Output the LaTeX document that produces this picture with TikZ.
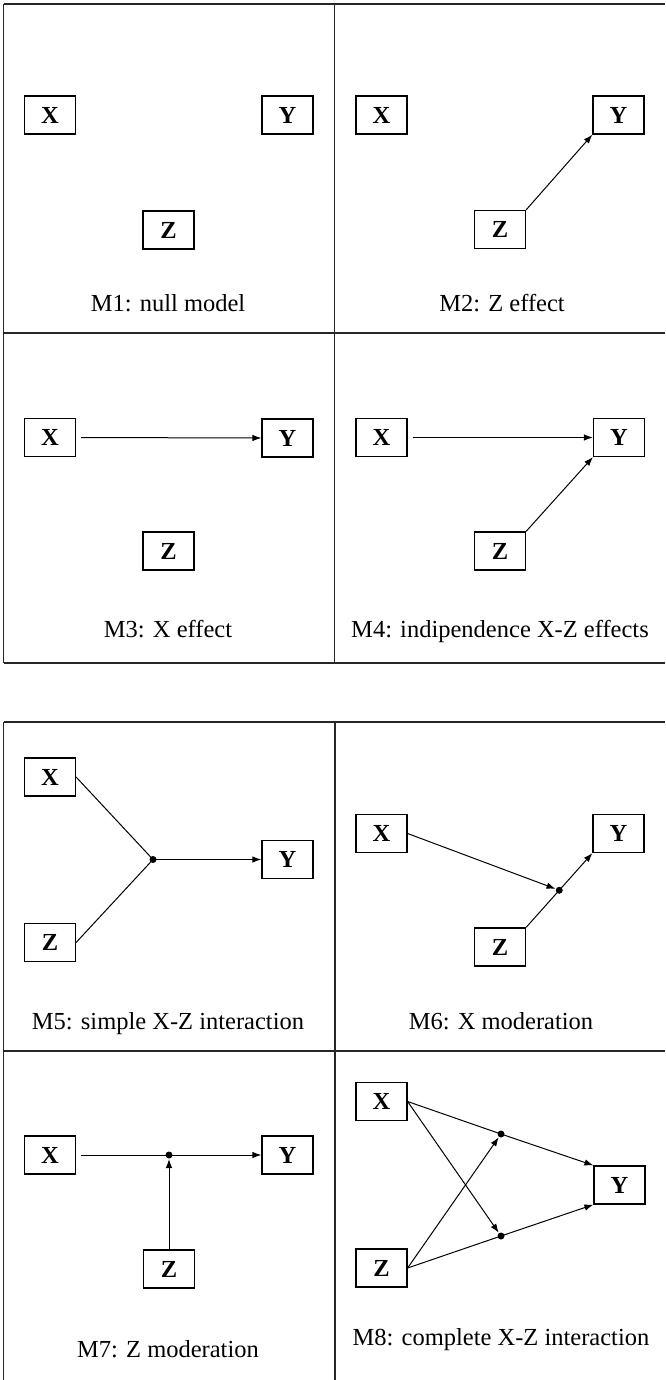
\documentclass[tikz,border=0pt]{standalone}
\usepackage{fontspec}
\setmainfont{Liberation Serif}
\usetikzlibrary{arrows.meta,calc}
\tikzset{
  varbox/.style={draw=black, line width=1.2pt, minimum width=51pt, minimum height=38pt, inner sep=0pt, font=\fontsize{24.5}{29}\selectfont\bfseries},
  captext/.style={font=\fontsize{24.5}{29}\selectfont, inner sep=0pt, anchor=base},
  tableline/.style={draw=black!85, line width=1.2pt},
  linkline/.style={draw=black, line width=1pt},
  arrline/.style={linkline, -{Latex[length=9pt,width=6.5pt]}},
  junction/.style={circle, fill=black, inner sep=0pt, minimum size=7pt}
}
\begin{document}
\begin{tikzpicture}[x=1pt, y=-1pt]
\useasboundingbox (0,0) rectangle (665,1380);
% table 1
\draw[tableline] (3.5,4) -- (665,4);
\draw[tableline] (3.5,333) -- (665,333);
\draw[tableline] (3.5,663) -- (665,663);
\draw[tableline] (3.5,4) -- (3.5,663);
\draw[tableline] (334.5,4) -- (334.5,663);
% table 2
\draw[tableline] (3.5,722) -- (665,722);
\draw[tableline] (3.5,1051) -- (665,1051);
\draw[tableline] (3.5,722) -- (3.5,1380);
\draw[tableline] (335,722) -- (335,1380);

% M1
\node[varbox] (x1) at (50,115) {X};
\node[varbox] (y1) at (287.5,115) {Y};
\node[varbox] (z1) at (168.5,230) {Z};
\node[captext] (c1) at (168,311) {M1: null model};

% M2
\node[varbox] (x2) at (381.5,115) {X};
\node[varbox] (y2) at (618.5,115) {Y};
\node[varbox] (z2) at (500,229.5) {Z};
\node[captext] (c2) at (502,311) {M2: Z effect};
\draw[arrline] (z2.north east) -- (y2.south west);

% M3
\node[varbox] (x3) at (50,437.5) {X};
\node[varbox] (y3) at (287.5,438) {Y};
\node[varbox] (z3) at (168.5,551) {Z};
\node[captext] (c3) at (168,637) {M3: X effect};
\draw[arrline, shorten <=5pt] (x3.east) -- (y3.west);

% M4
\node[varbox] (x4) at (381.5,437.5) {X};
\node[varbox] (y4) at (619,437.5) {Y};
\node[varbox] (z4) at (500,551) {Z};
\node[captext] (c4) at (500,637) {M4: indipendence X-Z effects};
\draw[arrline, shorten <=5pt] (x4.east) -- (y4.west);
\draw[arrline] (z4.north east) -- (y4.south west);

% M5
\node[varbox] (x5) at (50,777) {X};
\node[varbox] (z5) at (50,942.5) {Z};
\node[varbox] (y5) at (287.5,859.5) {Y};
\node[junction] (d5) at (153,859.5) {};
\node[captext] (c5) at (168,1029) {M5: simple X-Z interaction};
\draw[linkline] (x5.east) -- (d5.center);
\draw[linkline] (z5.east) -- (d5.center);
\draw[arrline] (d5.center) -- (y5.west);

% M6
\node[varbox] (x6) at (381.5,833.5) {X};
\node[varbox] (y6) at (618.5,833.5) {Y};
\node[varbox] (z6) at (500,947) {Z};
\node[junction] (d6) at ($(z6.north east)!0.5!(y6.south west)$) {};
\node[captext] (c6) at (501,1029) {M6: X moderation};
\draw[arrline, shorten >=4pt] (x6.east) -- (d6.center);
\draw[linkline] (z6.north east) -- (d6.center);
\draw[arrline] (d6.center) -- (y6.south west);

% M7
\node[varbox] (x7) at (50,1155) {X};
\node[varbox] (y7) at (287.5,1155) {Y};
\node[varbox] (z7) at (169,1269) {Z};
\node[junction] (d7) at (169,1155) {};
\node[captext] (c7) at (168,1357) {M7: Z moderation};
\draw[linkline, shorten <=5pt] (x7.east) -- (d7.center);
\draw[arrline] (d7.center) -- (y7.west);
\draw[arrline, shorten >=4pt] (z7.north) -- (d7.center);

% M8
\node[varbox] (x8) at (381.5,1101.5) {X};
\node[varbox] (z8) at (381.5,1268) {Z};
\node[varbox] (y8) at (619.5,1185) {Y};
\node[junction] (d8a) at (501,1134) {};
\node[junction] (d8b) at (501,1236) {};
\node[captext] (c8) at (501,1345) {M8: complete X-Z interaction};
\draw[linkline] (x8.east) -- (d8a.center);
\draw[arrline] (d8a.center) -- (y8.north west);
\draw[arrline, shorten >=4pt] (z8.east) -- (d8a.center);
\draw[arrline, shorten >=4pt] (x8.east) -- (d8b.center);
\draw[linkline] (z8.east) -- (d8b.center);
\draw[arrline] (d8b.center) -- (y8.south west);
\end{tikzpicture}
\end{document}
